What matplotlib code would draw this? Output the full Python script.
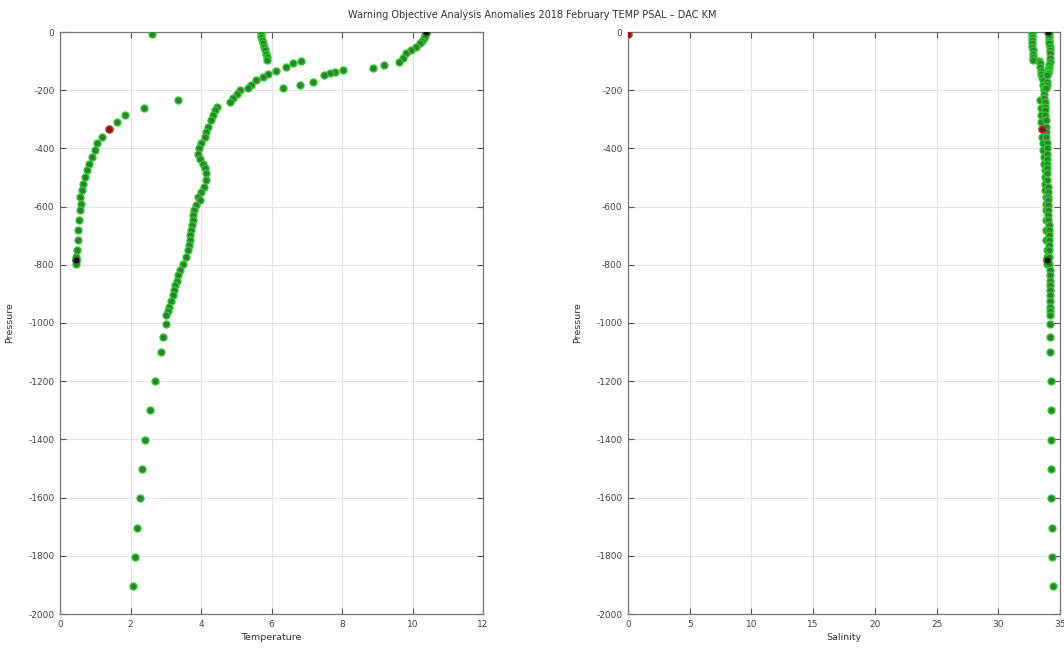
import matplotlib
matplotlib.use("Agg")
import matplotlib.pyplot as plt
import numpy as np

# ---------------- data ----------------
# Profile W (warm surface)
w_pres = [0, -5, -10, -20, -30, -39, -50, -62, -73, -90, -102, -114, -122,
          -131, -137, -142, -148, -171, -182, -192]
w_temp = [10.37, 10.38, 10.36, 10.33, 10.28, 10.22, 10.10, 9.96, 9.82, 9.73, 9.63,
          9.18, 8.88, 8.03, 7.79, 7.65, 7.50, 7.18, 6.80, 6.33]
w_psal = [34.06, 34.08, 34.10, 34.12, 34.12, 34.14, 34.15, 34.15, 34.16, 34.16, 34.15,
          34.12, 34.10, 34.05, 34.02, 34.00, 33.98, 33.95, 33.92, 33.90]

# Profile M (mixed layer 5.7, deep profile)
m_pres = [0, -8, -16, -28, -39, -50, -62, -74, -85, -96,
          -98, -108, -119, -133, -145, -154, -165, -182, -194, -200, -214, -228, -240,
          -257, -268, -286, -303, -326, -343, -360, -383, -400, -418, -435, -452,
          -469, -486, -509, -532, -550, -567, -578, -596, -613, -630, -647, -664,
          -682, -699, -716, -733, -750, -773, -796, -819, -836, -854, -871, -888,
          -905, -923, -946, -960, -974, -1003, -1049, -1100, -1201, -1300, -1401,
          -1502, -1603, -1703, -1804, -1904]
m_temp = [5.69, 5.70, 5.71, 5.73, 5.76, 5.78, 5.81, 5.83, 5.86, 5.88,
          6.85, 6.61, 6.42, 6.14, 5.90, 5.76, 5.57, 5.43, 5.33, 5.10, 5.02, 4.91, 4.82,
          4.44, 4.39, 4.34, 4.27, 4.20, 4.15, 4.11, 4.01, 3.95, 3.92, 3.97, 4.06,
          4.11, 4.15, 4.14, 4.08, 4.01, 3.92, 3.97, 3.87, 3.80, 3.78, 3.76, 3.75,
          3.73, 3.70, 3.68, 3.66, 3.63, 3.57, 3.48, 3.40, 3.36, 3.32, 3.27, 3.23,
          3.20, 3.16, 3.10, 3.06, 3.02, 3.00, 2.93, 2.86, 2.70, 2.55, 2.42,
          2.33, 2.27, 2.19, 2.12, 2.06]
m_psal = [32.70, 32.72, 32.72, 32.74, 32.75, 32.76, 32.78, 32.80, 32.82, 32.85,
          33.30, 33.35, 33.40, 33.45, 33.50, 33.55, 33.60, 33.65, 33.68, 33.70, 33.72, 33.74, 33.76,
          33.78, 33.80, 33.82, 33.84, 33.86, 33.88, 33.90, 33.91, 33.92, 33.93, 33.94, 33.95,
          33.96, 33.97, 33.98, 33.99, 34.00, 34.01, 34.02, 34.03, 34.04, 34.05, 34.06, 34.07,
          34.08, 34.09, 34.10, 34.11, 34.12, 34.13, 34.14, 34.15, 34.16, 34.17, 34.18, 34.18,
          34.19, 34.19, 34.20, 34.20, 34.21, 34.22, 34.22, 34.23, 34.25, 34.27, 34.28,
          34.30, 34.31, 34.32, 34.34, 34.40]

# Profile C (cold)
c_pres = [-8, -234, -261, -286, -309, -335, -360, -383, -406, -429, -452, -475,
          -498, -521, -544, -567, -590, -613, -647, -682, -716, -750, -773, -785, -796]
c_temp = [2.62, 3.35, 2.39, 1.84, 1.62, 1.39, 1.18, 1.06, 0.99, 0.90, 0.83, 0.77,
          0.71, 0.66, 0.61, 0.57, 0.59, 0.56, 0.54, 0.52, 0.50, 0.48, 0.46, 0.45, 0.45]
c_psal = [0.0, 33.40, 33.45, 33.48, 33.50, 33.52, 33.58, 33.62, 33.66, 33.70, 33.72, 33.75,
          33.77, 33.79, 33.81, 33.83, 33.84, 33.85, 33.87, 33.89, 33.90, 33.91, 33.92, 33.93, 33.94]

# flagged points: (profile, index)
temp_red = [("C", 5)]
psal_red = [("C", 0), ("C", 5)]
black_pts = [("W", 0), ("C", 23)]

title = "Warning Objective Analysis Anomalies 2018 February TEMP PSAL \u2013 DAC KM"
temp_ticks = [0, 2, 4, 6, 8, 10, 12]
psal_ticks = [0, 5, 10, 15, 20, 25, 30, 35]
pres_ticks = [0, -200, -400, -600, -800, -1000, -1200, -1400, -1600, -1800, -2000]

# ---------------- plot ----------------
plt.rcParams['font.family'] = ['DejaVu Sans']
fig = plt.figure(figsize=(10.64, 6.48), dpi=100)
axT = fig.add_axes([60/1064, 34/648, 423/1064, 582/648])
axS = fig.add_axes([628/1064, 34/648, 432/1064, 582/648])

prof = {"W": (w_pres, w_temp, w_psal), "M": (m_pres, m_temp, m_psal),
        "C": (c_pres, c_temp, c_psal)}

green_face = '#387a38'
green_edge = '#2acb2a'
ms = 5.0

for ax, vi in ((axT, 1), (axS, 2)):
    for key in ("C", "M", "W"):
        p = prof[key]
        ax.plot(p[vi], p[0], 'o', ms=ms, mfc=green_face, mec=green_edge, mew=1.0,
                linestyle='none', zorder=3)
    reds = temp_red if vi == 1 else psal_red
    for key, i in reds:
        p = prof[key]
        ax.plot([p[vi][i]], [p[0][i]], 'o', ms=ms, mfc='#7a1a1a', mec='#c03030', mew=1.0,
                zorder=4)
    for key, i in black_pts:
        p = prof[key]
        ax.plot([p[vi][i]], [p[0][i]], 'o', ms=ms, mfc='#101010', mec='#2a6a2a', mew=1.0,
                zorder=4)

axT.set_xlim(0, 12)
axT.set_xticks(temp_ticks)
axS.set_xlim(0, 35)
axS.set_xticks(psal_ticks)
for ax in (axT, axS):
    ax.set_ylim(-2000, 0)
    ax.set_yticks(pres_ticks)
    ax.set_yticklabels([str(t) for t in pres_ticks])
    ax.grid(True, color='#e4e4e4', linewidth=0.8, zorder=0)
    ax.set_axisbelow(True)
    ax.tick_params(direction='in', length=4, width=0.8, colors='#555555',
                   labelsize=6.5, labelcolor='#444444', top=True, right=True, pad=4)
    for s in ax.spines.values():
        s.set_color('#777777')
        s.set_linewidth(0.9)
    ax.set_ylabel('Pressure', fontsize=6.8, color='#333333', labelpad=10)

axT.set_xlabel('Temperature', fontsize=6.8, color='#333333', labelpad=3)
axS.set_xlabel('Salinity', fontsize=6.8, color='#333333', labelpad=3)

fig.text(0.5, 1 - 15/648, title, ha='center', va='center', fontsize=7.0, color='#333333')

fig.savefig('out.png', dpi=100)
